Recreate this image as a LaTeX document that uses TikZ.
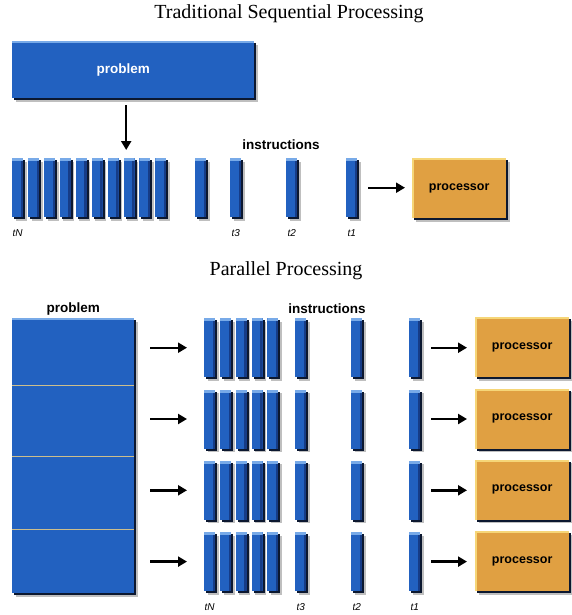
\documentclass[tikz,border=0pt]{standalone}
\usepackage{fontspec}
\setmainfont{Liberation Serif}
\setsansfont{Liberation Sans}
\usetikzlibrary{shadows,arrows.meta}
\definecolor{probblue}{RGB}{34,97,192}
\definecolor{toplite}{RGB}{120,170,232}
\definecolor{bardark}{RGB}{22,60,135}
\definecolor{shadenavy}{RGB}{12,24,48}
\definecolor{procorange}{RGB}{224,160,66}
\definecolor{proclite}{RGB}{246,214,120}
\definecolor{divtan}{RGB}{205,190,140}

\begin{document}
\begin{tikzpicture}[x=1pt,y=-1pt,
  every node/.style={inner sep=0pt},
  boxshade/.style={drop shadow={shadow xshift=3.5pt,shadow yshift=-3.5pt,fill=black,opacity=.25},
    drop shadow={shadow xshift=2pt,shadow yshift=-2pt,fill=shadenavy,opacity=1}},
  blubox/.style={boxshade, anchor=north west, fill=probblue,
    path picture={\fill[toplite] (path picture bounding box.north west) rectangle ([yshift=-2pt]path picture bounding box.north east);}},
  bar/.style={boxshade, anchor=north west, fill=probblue, minimum width=11pt, minimum height=59pt,
    path picture={\fill[toplite] (path picture bounding box.north west) rectangle ([yshift=-3pt]path picture bounding box.north east);
      \fill[bardark] ([xshift=-2.5pt]path picture bounding box.south east) rectangle ([yshift=-3pt]path picture bounding box.north east);}},
  procbox/.style={boxshade, anchor=north west, fill=procorange, minimum width=94pt, minimum height=60pt,
    font=\sffamily\bfseries\fontsize{12.5}{14}\selectfont,
    path picture={\fill[proclite] (path picture bounding box.north west) rectangle ([yshift=-2pt]path picture bounding box.north east);
      \fill[proclite] (path picture bounding box.north west) rectangle ([xshift=2pt]path picture bounding box.south west);}},
  ptext/.style={font=\sffamily\bfseries\fontsize{13.5}{15}\selectfont},
  tlab/.style={font=\sffamily\itshape\fontsize{10}{11}\selectfont},
  tit/.style={font=\rmfamily\fontsize{20}{24}\selectfont},
  arr/.style={-{Triangle[length=9pt,width=10pt]}, line width=2.4pt}]
\useasboundingbox (0,0) rectangle (571,615);

% sequential
\node[tit] (STit) at (289,14) {Traditional Sequential Processing};
\node[blubox, minimum width=242pt, minimum height=57pt, label={[ptext,white,xshift=-10pt]center:problem}] (SProb) at (12,41) {};
\node[ptext] (SIns) at (281,145) {instructions};
\foreach \col in {1,...,10}
  \node[bar] (SG\col) at ({12+15.9*(\col-1)},158) {};
\node[bar] (SX) at (195,158) {};
\node[bar, label={[tlab,label distance=12pt]below:t3}] (ST3) at (230,158) {};
\node[bar, label={[tlab,label distance=12pt]below:t2}] (ST2) at (286,158) {};
\node[bar, label={[tlab,label distance=12pt]below:t1}] (ST1) at (346,158) {};
\node[tlab, anchor=north] (StN) at ([yshift=-12pt]SG1.south) {tN};
\node[procbox] (SProc) at (412,158) {processor};
\draw[arr, shorten <=7pt, shorten >=8pt] ([xshift=-7pt]SProb.south) -- ([xshift=-7pt]SProb.south |- SG8.north);
\draw[arr, shorten <=11pt, shorten >=7pt] (ST1.east) -- (ST1.east -| SProc.west);

% parallel
\node[tit] (PTit) at (286,271) {Parallel Processing};
\node[blubox, minimum width=122pt, minimum height=275pt, label={[ptext,label distance=3pt]above:problem}] (PProb) at (12,318) {};
\foreach \y in {385,456,529}
  \draw[divtan, line width=1pt] (PProb.west |- 0,\y) -- (PProb.east |- 0,\y);
\node[ptext] (PIns) at (327,309) {instructions};
\foreach \row in {1,...,4} {
  \pgfmathsetmacro\ty{318+71.3*(\row-1)}
  \foreach \col in {1,...,5}
    \node[bar] (P\row G\col) at ({204+15.8*(\col-1)},\ty) {};
  \node[bar] (P\row T3) at (295,\ty) {};
  \node[bar] (P\row T2) at (351,\ty) {};
  \node[bar] (P\row T1) at (409,\ty) {};
  \node[procbox] (P\row Proc) at (475,\ty-1) {processor};
  \draw[arr, shorten <=16pt, shorten >=17pt] (PProb.east |- P\row G1.west) -- (P\row G1.west);
  \draw[arr, shorten <=11pt, shorten >=8pt] (P\row T1.east) -- (P\row T1.east -| P\row Proc.west);
}
\node[tlab, anchor=north] (PtN) at ([yshift=-12pt]P4G1.south) {tN};
\node[tlab, anchor=north] (Pt3) at ([yshift=-12pt]P4T3.south) {t3};
\node[tlab, anchor=north] (Pt2) at ([yshift=-12pt]P4T2.south) {t2};
\node[tlab, anchor=north] (Pt1) at ([yshift=-12pt]P4T1.south) {t1};
\end{tikzpicture}
\end{document}
